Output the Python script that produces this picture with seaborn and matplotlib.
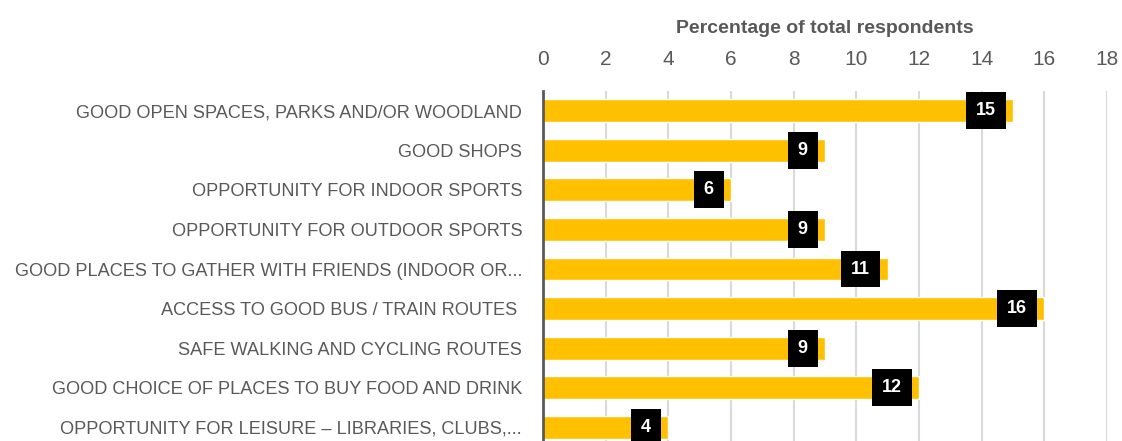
import matplotlib
matplotlib.use('Agg')
import matplotlib.pyplot as plt
import seaborn as sns
import pandas as pd

categories = [
    "GOOD OPEN SPACES, PARKS AND/OR WOODLAND",
    "GOOD SHOPS",
    "OPPORTUNITY FOR INDOOR SPORTS",
    "OPPORTUNITY FOR OUTDOOR SPORTS",
    "GOOD PLACES TO GATHER WITH FRIENDS (INDOOR OR...",
    "ACCESS TO GOOD BUS / TRAIN ROUTES ",
    "SAFE WALKING AND CYCLING ROUTES",
    "GOOD CHOICE OF PLACES TO BUY FOOD AND DRINK",
    "OPPORTUNITY FOR LEISURE \u2013 LIBRARIES, CLUBS,...",
]
values = [15, 9, 6, 9, 11, 16, 9, 12, 4]
x_ticks = [0, 2, 4, 6, 8, 10, 12, 14, 16, 18]

df = pd.DataFrame({"category": categories, "value": values})

sns.set_theme(style="white")
plt.rcParams['font.family'] = ['Liberation Sans', 'DejaVu Sans']

grey = "#595959"
fig = plt.figure(figsize=(11.22, 4.41), dpi=100)
ax = fig.add_axes([543 / 1122, -6 / 441, 564 / 1122, 356 / 441])

sns.barplot(data=df, x="value", y="category", orient="h", color="#FFC000",
            width=0.58, saturation=1, ax=ax, zorder=2)

ax.set_xlim(0, 18)
ax.set_ylim(8.5, -0.5)
ax.set_xticks(x_ticks)
ax.xaxis.tick_top()
ax.xaxis.set_label_position('top')
ax.tick_params(axis='x', length=0, pad=16, labelsize=15, labelcolor=grey)
ax.tick_params(axis='y', length=0, pad=15, labelsize=13.1, labelcolor=grey)
ax.set_xlabel("Percentage of total respondents", fontsize=14, fontweight='bold',
              color=grey, labelpad=12)
ax.set_ylabel("")

ax.grid(axis='x', color="#D9D9D9", linewidth=1.5, zorder=0)
ax.set_axisbelow(True)
for side in ['top', 'right', 'bottom']:
    ax.spines[side].set_visible(False)
ax.spines['left'].set_color(grey)
ax.spines['left'].set_linewidth(2)
ax.spines['left'].set_zorder(3)

for i, v in enumerate(values):
    ax.annotate(str(v), xy=(v, i), xytext=(-12.5, 0), textcoords='offset points',
                ha='right', va='center', color='white', fontsize=13,
                fontweight='bold', zorder=4,
                bbox=dict(boxstyle='square,pad=0.55', fc='black', ec='none'))

fig.savefig("out.png", dpi=100)
